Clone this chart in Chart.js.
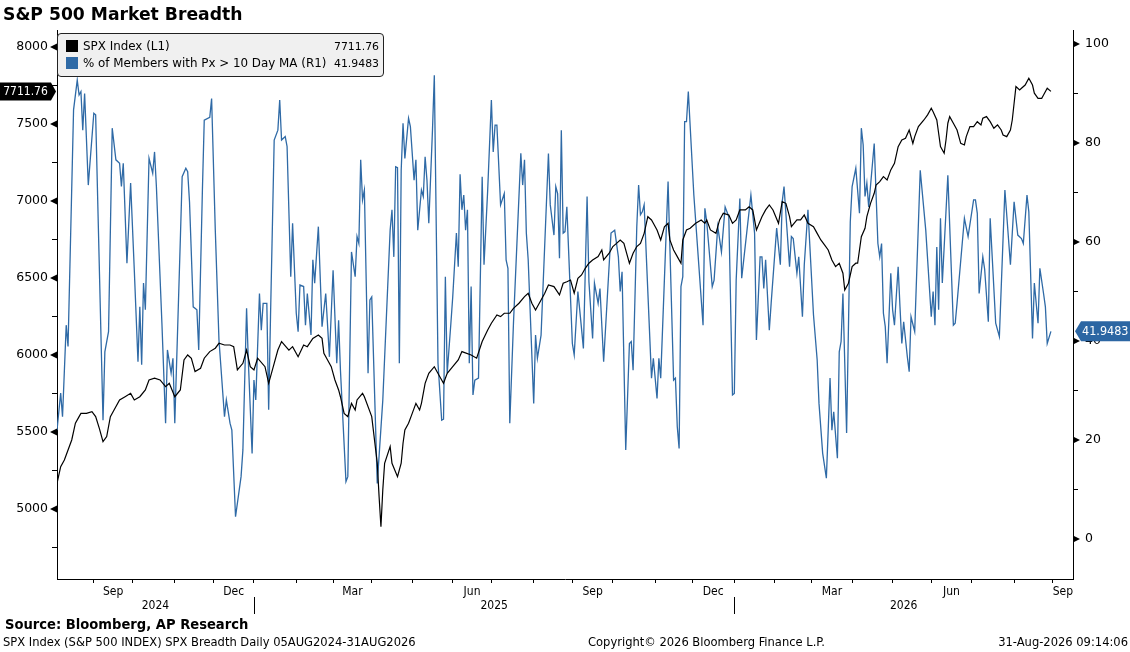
<!DOCTYPE html>
<html>
<head>
<meta charset="utf-8">
<script src="https://cdn.jsdelivr.net/npm/chart.js@4.4.1/dist/chart.umd.min.js"></script>
<style>
html,body{margin:0;padding:0;background:#fff;}
#wrap{position:relative;width:1130px;height:652px;overflow:hidden;background:#fff;}
#c{position:absolute;left:0;top:0;}
.txt{position:absolute;white-space:nowrap;color:#000;line-height:1;}
#title{left:3px;top:4px;font:bold 17.2px "DejaVu Sans",sans-serif;}
#legend{position:absolute;left:57px;top:33px;width:327px;height:44px;background:#f0f0f0;border:1px solid #222;border-radius:4px;box-sizing:border-box;font:11.9px "DejaVu Sans",sans-serif;color:#000;}
.lrow{position:absolute;left:8px;right:4px;height:14px;}
.sw{position:absolute;left:0;top:1px;width:12px;height:12px;}
.ln{position:absolute;left:17px;top:0;}
.lv{position:absolute;right:0;top:1px;font-size:10.9px;}
.cond{font-family:"DejaVu Sans Condensed","Liberation Sans Narrow","DejaVu Sans",sans-serif;font-stretch:condensed;}
#source{left:5px;top:617px;font-weight:bold;font-size:14.6px;}
#foot1{left:3px;top:636px;font-size:12.8px;}
#foot2{left:588px;top:636px;font-size:12.8px;}
#foot3{right:2px;top:636px;font-size:12.8px;}
</style>
</head>
<body>
<div id="wrap">
<canvas id="c" width="1130" height="652"></canvas>
<div id="title" class="txt">S&amp;P 500 Market Breadth</div>
<div id="legend">
  <div class="lrow" style="top:5px"><div class="sw" id="sw0"></div><div class="ln" id="ln0"></div><div class="lv" id="lv0"></div></div>
  <div class="lrow" style="top:22px"><div class="sw" id="sw1"></div><div class="ln" id="ln1"></div><div class="lv" id="lv1"></div></div>
</div>
<div id="source" class="txt cond">Source: Bloomberg, AP Research</div>
<div id="foot1" class="txt cond">SPX Index (S&amp;P 500 INDEX) SPX Breadth Daily 05AUG2024-31AUG2026</div>
<div id="foot2" class="txt cond">Copyright© 2026 Bloomberg Finance L.P.</div>
<div id="foot3" class="txt cond">31-Aug-2026 09:14:06</div>
</div>
<script>
// ---------------- DATA (x = trading-session number since 05-Aug-2024, weekdays) ----------------
const seriesNames = ['SPX Index (L1)', '% of Members with Px > 10 Day MA (R1)'];
const seriesColors = ['#000000', '#2f6aa6'];

const spxSession = [0,2,4,6,8,10,12,13,16,19,21,23,25,27,29,31,34,37,40,42,45,48,50,53,56,59,61,64,67,69,71,73,75,78,80,83,86,88,91,94,96,98,101,103,105,107,109,113,115,118,120,122,126,128,131,134,136,139,142,144,145,147,149,151,153,154,156,158,160,162,163,166,167,171,174,175,176,177,178,181,182,185,187,188,189,191,193,195,197,198,200,202,205,208,210,212,215,218,220,225,228,231,234,236,239,241,243,246,248,251,254,256,258,260,263,265,267,270,273,275,277,279,281,283,285,287,289,291,294,296,297,300,302,304,306,308,310,311,313,315,317,319,321,323,324,326,328,330,332,333,335,337,339,340,342,344,347,350,352,353,355,358,360,362,365,367,369,371,374,376,378,380,383,385,387,389,392,394,396,398,399,402,404,406,408,411,413,415,417,419,421,423,425,427,428,430,432,434,435,437,439,440,442,444,445,447,449,451,453,455,457,459,461,463,465,466,468,471,473,475,476,478,479,480,482,483,484,485,487,489,491,493,494,496,498,500,502,503,505,507,509,511,513,514,516,518,519,520,521,523,524,526,528,530,531,533,535,536,538,540];
const spxClose = [5167,5275,5318,5383,5448,5557,5600,5621,5621,5632,5600,5524,5437,5470,5600,5643,5708,5729,5751,5708,5729,5773,5838,5849,5838,5794,5816,5729,5773,5968,6000,5979,5892,5914,5979,6022,6044,6076,6065,6065,6054,5903,5946,6032,5924,5903,5979,5924,5816,5946,6032,6087,6032,6054,5989,6065,6054,6108,6130,6108,6011,5968,5924,5838,5773,5729,5621,5600,5686,5643,5708,5751,5729,5600,5297,5080,4885,5123,5297,5405,5297,5210,5297,5427,5513,5557,5621,5686,5643,5686,5816,5881,5924,5859,5816,5881,5924,5968,6022,6000,5979,6087,6162,6206,6260,6249,6271,6271,6303,6336,6379,6401,6336,6292,6357,6401,6455,6444,6390,6466,6476,6487,6401,6498,6520,6563,6596,6617,6639,6682,6617,6661,6704,6725,6747,6725,6639,6596,6661,6704,6725,6790,6898,6877,6855,6812,6747,6833,6855,6747,6682,6639,6596,6747,6812,6823,6855,6877,6855,6877,6812,6790,6877,6920,6909,6855,6877,6942,6942,6963,6942,6812,6898,6942,6974,6942,6855,6996,6985,6898,6833,6877,6877,6909,6855,6833,6790,6747,6715,6682,6617,6574,6596,6531,6422,6466,6574,6596,6596,6768,6823,6898,6985,7050,7104,7126,7158,7137,7202,7245,7353,7396,7407,7461,7374,7418,7483,7526,7559,7602,7580,7526,7440,7353,7310,7396,7505,7548,7505,7461,7374,7364,7418,7483,7483,7515,7494,7537,7548,7515,7472,7494,7461,7429,7418,7461,7526,7635,7743,7721,7732,7753,7797,7753,7700,7667,7667,7688,7732,7711.76];

const breadthSession = [0,2,3,5,6,9,11,12,13,14,15,17,20,21,25,26,28,30,32,34,35,36,38,40,42,44,45,46,47,48,50,52,53,54,57,59,60,62,63,64,67,68,70,71,72,74,76,77,79,80,83,84,86,88,91,92,94,95,97,100,101,103,104,106,107,108,110,111,112,114,115,116,118,120,121,122,124,125,127,128,130,131,132,134,135,136,138,139,140,142,144,146,148,150,152,153,154,157,158,160,162,163,164,165,166,167,169,170,171,174,177,181,182,183,184,185,186,187,188,189,191,192,194,195,196,198,199,200,201,202,204,205,207,209,210,211,212,214,215,217,218,219,220,221,222,223,224,225,226,227,229,231,232,234,236,237,238,239,241,243,244,245,246,248,252,253,254,255,256,259,260,261,263,267,268,270,271,272,273,274,275,276,277,280,281,283,284,286,288,289,291,292,294,295,297,300,301,303,305,306,307,309,311,312,313,315,316,317,318,319,323,324,326,327,328,332,335,336,337,338,339,340,341,342,343,346,351,352,353,356,357,359,361,363,365,367,368,369,371,372,377,379,380,382,383,384,385,387,388,391,393,394,395,398,399,400,402,403,405,406,408,411,413,414,416,418,419,420,421,422,424,425,426,427,429,431,432,434,436,437,438,439,440,441,444,446,447,448,449,450,451,453,454,455,457,458,459,460,462,463,464,466,469,472,475,476,477,478,479,480,481,484,487,488,489,493,495,498,499,500,501,503,504,506,507,510,512,515,518,520,522,524,525,527,528,530,531,533,534,536,537,538,540];
const breadthPct = [22.0,29.5,24.7,43.2,38.9,86.7,92.7,89.7,90.4,82.6,90.0,71.5,86.0,85.7,24.0,37.8,41.9,83.0,76.6,75.9,71.2,75.9,55.7,71.9,54.3,35.8,46.9,35.2,51.7,46.3,76.9,73.9,78.2,71.2,43.6,23.4,38.2,33.5,36.5,23.4,60.4,73.2,74.9,74.2,68.1,46.9,46.3,38.2,70.5,84.6,85.2,89.0,62.4,40.2,24.7,28.1,23.4,22.0,4.5,12.6,18.0,46.6,35.5,17.3,32.1,28.1,49.6,42.2,47.6,47.6,26.1,44.9,80.6,82.6,88.7,80.6,81.3,79.3,53.0,63.8,45.6,41.9,51.3,51.0,43.2,49.6,41.2,56.4,51.7,63.1,42.9,49.6,36.8,54.3,35.5,44.2,34.1,11.6,12.6,58.0,53.0,61.1,59.7,76.6,68.5,70.5,33.5,48.3,48.9,11.2,28.0,62.4,66.5,57.0,75.2,75.0,35.5,74.5,84.0,76.9,85.0,83.3,72.5,76.6,62.4,70.5,69.2,77.2,72.5,63.8,82.6,93.7,35.5,24.0,24.2,53.0,33.5,43.6,48.9,61.8,55.0,73.7,66.5,69.5,62.4,66.5,35.5,51.0,29.1,32.1,32.5,73.2,55.4,70.5,88.7,78.2,83.6,83.6,67.5,69.8,56.4,54.7,23.4,43.6,77.9,71.5,76.6,61.8,56.4,27.4,41.2,36.5,41.2,77.9,67.5,61.4,71.2,69.8,56.7,82.6,61.8,62.1,67.1,39.5,37.2,50.0,46.3,38.5,69.2,52.0,40.5,51.7,47.6,50.6,35.8,55.4,61.8,62.4,57.0,50.0,54.0,18.0,39.5,39.9,34.1,63.1,71.5,65.5,66.1,67.5,32.5,36.5,28.4,36.5,32.5,72.2,32.1,32.5,22.7,18.3,51.0,53.0,84.3,84.3,90.4,69.5,43.2,66.8,64.1,51.0,52.3,63.1,58.0,67.1,65.1,29.1,29.4,52.3,68.8,52.7,69.5,61.8,40.2,57.0,57.0,50.6,56.4,42.2,47.6,62.8,55.4,68.1,71.2,55.0,61.1,60.7,53.7,57.0,44.9,55.4,66.5,45.3,36.2,27.4,17.3,12.3,22.0,32.5,22.0,25.7,16.3,37.8,39.9,49.6,21.4,64.1,71.2,74.9,65.8,83.0,79.6,69.2,71.9,67.1,79.9,59.7,57.0,59.7,45.6,42.9,35.5,53.7,46.3,43.2,55.0,46.9,39.5,43.9,36.8,33.8,44.9,41.9,74.5,62.4,44.9,50.0,43.2,59.0,46.3,64.8,51.7,73.5,43.2,43.6,47.6,64.8,61.1,68.5,68.5,65.8,49.6,57.0,54.5,43.9,64.8,43.6,40.9,70.5,55.4,68.1,61.4,60.7,59.7,69.5,66.1,40.5,51.7,43.6,54.7,49.6,46.9,39.5,41.9483];

const leftTicks  = [4750,5000,5250,5500,5750,6000,6250,6500,6750,7000,7250,7500,7750,8000];
const leftLabeled = [5000,5500,6000,6500,7000,7500,8000];
const rightTicks = [0,10,20,30,40,50,60,70,80,90,100];
const rightLabeled = [0,20,40,60,80,100];
const monthLabels = {9:'Sep',12:'Dec',3:'Mar',6:'Jun'};
const yearLabels = ['2024','2025','2026'];

// ---------------- helpers ----------------
const START = Date.UTC(2024,7,5);
function session(y,m,d){ // weekdays elapsed since 05-Aug-2024
  const end = Date.UTC(y,m-1,d); let n=0;
  for(let t=START;t<end;t+=86400000){const g=new Date(t).getUTCDay(); if(g>0&&g<6) n++;}
  return n;
}
const XMIN = 0, XMAX = 552;
const monthStarts = [];
for(let y=2024,m=9; y<2026 || (y===2026 && m<=9); ){ monthStarts.push({v:session(y,m,1),m,y}); m++; if(m>12){m=1;y++;} }
const monthBounds = monthStarts.map(o=>o.v);
const monthMidTicks = []; const monthMidText = {};
for(let i=0;i<monthStarts.length;i++){
  const o=monthStarts[i]; if(!monthLabels[o.m]) continue;
  const a=o.v, b=(i+1<monthStarts.length)?monthStarts[i+1].v:XMAX;
  const mid=(a+Math.min(b,XMAX))/2; monthMidTicks.push(mid); monthMidText[mid]=monthLabels[o.m];
}
const yearStarts = [session(2025,1,1), session(2026,1,1)];
const yearSeg = [[XMIN,yearStarts[0]],[yearStarts[0],yearStarts[1]],[yearStarts[1],XMAX]];
const yearMidTicks = yearSeg.map(s=>(s[0]+s[1])/2); const yearMidText={};
yearMidTicks.forEach((v,i)=>yearMidText[v]=yearLabels[i]);

const COND = '"DejaVu Sans Condensed", "Liberation Sans Narrow", "DejaVu Sans", sans-serif';
const SANS = '"DejaVu Sans", sans-serif';

const spxLast = spxClose[spxClose.length-1];
const brLast = breadthPct[breadthPct.length-1];
document.getElementById('sw0').style.background = seriesColors[0];
document.getElementById('sw1').style.background = seriesColors[1];
document.getElementById('ln0').textContent = seriesNames[0];
document.getElementById('ln1').textContent = seriesNames[1];
document.getElementById('lv0').textContent = spxLast.toFixed(2);
document.getElementById('lv1').textContent = brLast.toFixed(4);

function tri(ctx,x,y,dir){ctx.beginPath();ctx.moveTo(x,y-3.5);ctx.lineTo(x+dir*7,y);ctx.lineTo(x,y+3.5);ctx.closePath();ctx.fill();}

const decor = {
  id:'decor',
  afterDraw(chart){
    const {ctx, chartArea:a, scales} = chart;
    ctx.save();
    ctx.fillStyle='#000';
    leftLabeled.forEach(v=>tri(ctx,a.left,scales.y.getPixelForValue(v),-1));
    rightLabeled.forEach(v=>tri(ctx,a.right,scales.y1.getPixelForValue(v),1));
    ctx.strokeStyle='#000'; ctx.lineWidth=1;
    yearStarts.forEach(v=>{const px=Math.round(scales.x.getPixelForValue(v))+0.5;ctx.beginPath();ctx.moveTo(px,a.bottom+18);ctx.lineTo(px,a.bottom+35);ctx.stroke();});
    let py = scales.y.getPixelForValue(spxLast);
    ctx.fillStyle='#000';
    ctx.beginPath();ctx.moveTo(0,py-9);ctx.lineTo(51,py-9);ctx.lineTo(a.left-1,py);ctx.lineTo(51,py+9);ctx.lineTo(0,py+9);ctx.closePath();ctx.fill();
    ctx.fillStyle='#fff';ctx.font='12px '+COND;ctx.textAlign='center';ctx.textBaseline='middle';
    ctx.fillText(spxLast.toFixed(2),25.5,py+0.5);
    py = scales.y1.getPixelForValue(brLast);
    ctx.fillStyle='#2c66a3';
    ctx.beginPath();ctx.moveTo(a.right+2,py);ctx.lineTo(a.right+8,py-10);ctx.lineTo(1130,py-10);ctx.lineTo(1130,py+10);ctx.lineTo(a.right+8,py+10);ctx.closePath();ctx.fill();
    ctx.fillStyle='#fff';ctx.textAlign='left';ctx.font='12.5px '+COND;
    ctx.fillText(brLast.toFixed(4),a.right+9,py+0.5);
    ctx.restore();
  }
};

new Chart(document.getElementById('c'), {
  data:{
    datasets:[
      {type:'line', label:seriesNames[0], data:spxSession.map((d,i)=>({x:d,y:spxClose[i]})), borderColor:seriesColors[0], borderWidth:1.2, pointRadius:0, tension:0, xAxisID:'x', yAxisID:'y'},
      {type:'line', label:seriesNames[1], data:breadthSession.map((d,i)=>({x:d,y:breadthPct[i]})), borderColor:seriesColors[1], borderWidth:1.3, pointRadius:0, tension:0, xAxisID:'x', yAxisID:'y1'}
    ]
  },
  options:{
    responsive:false, animation:false, devicePixelRatio:1,
    layout:{padding:{top:30,bottom:38,left:0,right:0}},
    plugins:{legend:{display:false}, tooltip:{enabled:false}},
    scales:{
      x:{type:'linear',position:'bottom',weight:0,min:XMIN,max:XMAX,
        afterBuildTicks:s=>{s.ticks=monthBounds.map(v=>({value:v}));},
        ticks:{display:false},
        grid:{drawOnChartArea:false,tickLength:4,color:'#000',lineWidth:1},
        border:{display:true,color:'#000',width:1},
        afterFit:s=>{s.height=5;}},
      xm:{type:'linear',position:'bottom',weight:1,min:XMIN,max:XMAX,
        afterBuildTicks:s=>{s.ticks=monthMidTicks.map(v=>({value:v}));},
        ticks:{autoSkip:false,maxRotation:0,padding:1,color:'#000',font:{family:COND,size:12},callback:v=>monthMidText[v]||''},
        grid:{display:false,drawTicks:false},border:{display:false},
        afterFit:s=>{s.height=14;}},
      xy:{type:'linear',position:'bottom',weight:2,min:XMIN,max:XMAX,
        afterBuildTicks:s=>{s.ticks=yearMidTicks.map(v=>({value:v}));},
        ticks:{autoSkip:false,maxRotation:0,padding:1,color:'#000',font:{family:COND,size:12},callback:v=>yearMidText[v]||''},
        grid:{display:false,drawTicks:false},border:{display:false},
        afterFit:s=>{s.height=16;}},
      y:{type:'linear',position:'left',min:4545.4,max:8110.4,
        afterBuildTicks:s=>{s.ticks=leftTicks.map(v=>({value:v}));},
        ticks:{autoSkip:false,padding:4,color:'#000',font:{family:SANS,size:12.5},callback:v=>leftLabeled.includes(v)?String(v):''},
        grid:{drawOnChartArea:false,tickLength:5,color:'#000'},
        border:{display:true,color:'#000',width:1},
        afterFit:s=>{s.width=57;}},
      y1:{type:'linear',position:'right',min:-8.08,max:102.83,
        afterBuildTicks:s=>{s.ticks=rightTicks.map(v=>({value:v}));},
        ticks:{autoSkip:false,padding:7,color:'#000',font:{family:SANS,size:12.5},callback:v=>rightLabeled.includes(v)?String(v):''},
        grid:{drawOnChartArea:false,tickLength:5,color:'#000'},
        border:{display:true,color:'#000',width:1},
        afterFit:s=>{s.width=57;}}
    }
  },
  plugins:[decor]
});
</script>
</body>
</html>
